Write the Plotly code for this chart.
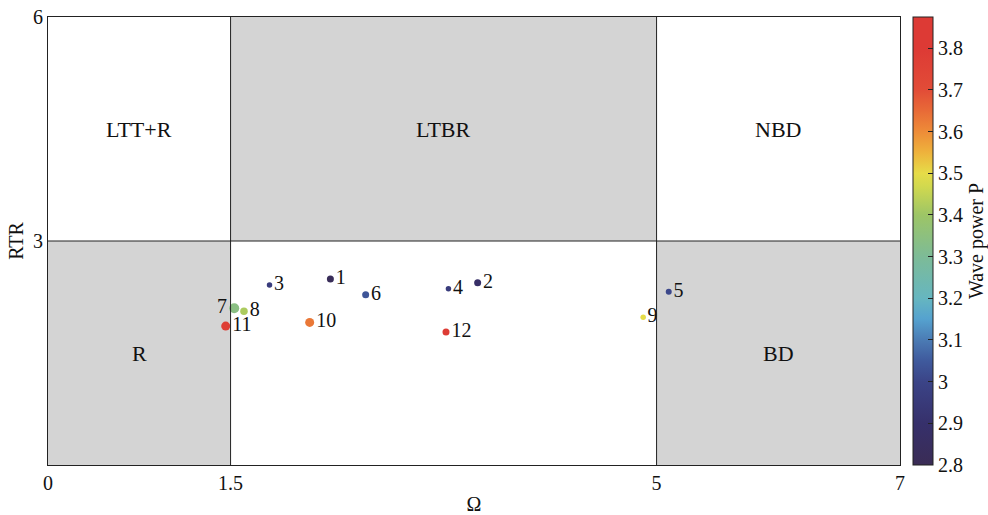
import plotly.graph_objects as go

# Data
labels = ["1", "2", "3", "4", "5", "6", "7", "8", "9", "10", "11", "12"]
omega = [2.32, 3.53, 1.82, 3.29, 5.10, 2.61, 1.53, 1.61, 4.89, 2.15, 1.46, 3.27]
rtr = [2.49, 2.44, 2.41, 2.36, 2.32, 2.28, 2.10, 2.06, 1.98, 1.91, 1.86, 1.78]
power = [2.82, 2.88, 2.96, 2.96, 3.01, 3.04, 3.34, 3.42, 3.50, 3.63, 3.78, 3.79]
sizes = [7, 7, 5.5, 5.5, 6, 7, 10, 7.5, 5.5, 9, 9, 7]
text_pos = ["middle right"] * 6 + ["middle left"] + ["middle right"] * 5

x_ticks = [0, 1.5, 5, 7]
y_ticks = [3, 6]
cbar_ticks = [2.8, 2.9, 3.0, 3.1, 3.2, 3.3, 3.4, 3.5, 3.6, 3.7, 3.8]
cbar_text = ["2.8", "2.9", "3", "3.1", "3.2", "3.3", "3.4", "3.5", "3.6", "3.7", "3.8"]

regions = [  # x0, x1, y0, y1, shaded, label
    (0, 1.5, 3, 6, False, "LTT+R"),
    (1.5, 5, 3, 6, True, "LTBR"),
    (5, 7, 3, 6, False, "NBD"),
    (0, 1.5, 0, 3, True, "R"),
    (1.5, 5, 0, 3, False, ""),
    (5, 7, 0, 3, True, "BD"),
]

cmin, cmax = 2.8, 3.875
colorscale = [
    [0.0, "#3a2c55"],
    [0.093, "#36306b"],
    [0.186, "#3b4487"],
    [0.233, "#3f5a9d"],
    [0.279, "#4b7bb4"],
    [0.326, "#55a2cf"],
    [0.372, "#66b6c0"],
    [0.465, "#7dbb97"],
    [0.558, "#9dc566"],
    [0.623, "#d2d94e"],
    [0.651, "#e6dc48"],
    [0.698, "#eeb23c"],
    [0.744, "#ee8c38"],
    [0.791, "#e86a37"],
    [0.837, "#e24c37"],
    [0.93, "#dd3a35"],
    [1.0, "#dd3a35"],
]

FONT = "Liberation Serif"
TXT = "#111"

fig = go.Figure()

shapes = []
annotations = []
for x0, x1, y0, y1, shaded, lab in regions:
    if shaded:
        shapes.append(dict(type="rect", xref="x", yref="y", x0=x0, x1=x1, y0=y0, y1=y1,
                           fillcolor="#d4d4d4", line=dict(width=0), layer="below"))
    if lab:
        annotations.append(dict(x=(x0 + x1) / 2, y=(y0 + y1) / 2, xref="x", yref="y",
                                text=lab, showarrow=False,
                                font=dict(family=FONT, size=22, color=TXT)))

for xv in [1.5, 5]:
    shapes.append(dict(type="line", xref="x", yref="y", x0=xv, x1=xv, y0=0, y1=6,
                       line=dict(color="#222", width=1)))
shapes.append(dict(type="line", xref="x", yref="y", x0=0, x1=7, y0=3, y1=3,
                   line=dict(color="#222", width=1)))

fig.add_trace(go.Scatter(
    x=omega, y=rtr, mode="markers+text", text=labels, textposition=text_pos,
    textfont=dict(family=FONT, size=20, color=TXT),
    marker=dict(size=sizes, color=power, colorscale=colorscale, cmin=cmin, cmax=cmax,
                opacity=1, line=dict(width=0), showscale=True,
                colorbar=dict(
                    x=1.0153, xanchor="left", xref="paper", xpad=0, ypad=0,
                    y=0.5, yanchor="middle", len=448, lenmode="pixels",
                    thickness=20, thicknessmode="pixels",
                    outlinecolor="#222", outlinewidth=1,
                    tickvals=cbar_ticks, ticktext=cbar_text,
                    ticks="inside", ticklen=5, tickcolor="#222",
                    tickfont=dict(family=FONT, size=20, color=TXT),
                    title=dict(text="Wave power P", side="right",
                               font=dict(family=FONT, size=20, color=TXT)),
                )),
    showlegend=False, hoverinfo="x+y",
))

fig.update_layout(
    width=988, height=515,
    margin=dict(l=48, r=88, t=17, b=50, autoexpand=False),
    paper_bgcolor="white", plot_bgcolor="white",
    shapes=shapes, annotations=annotations,
    font=dict(family=FONT, size=20, color=TXT),
    xaxis=dict(range=[0, 7], tickvals=x_ticks, ticktext=["0", "1.5", "5", "7"],
               showgrid=False, zeroline=False, showline=True, mirror=True,
               linecolor="#222", linewidth=1, ticks="", ticklen=0,
               tickfont=dict(family=FONT, size=20, color=TXT),
               title=dict(text="Ω", standoff=4, font=dict(family=FONT, size=20, color=TXT))),
    yaxis=dict(range=[0, 6], tickvals=y_ticks, ticktext=["3", "6"],
               showgrid=False, zeroline=False, showline=True, mirror=True,
               linecolor="#222", linewidth=1, ticks="",
               tickfont=dict(family=FONT, size=20, color=TXT),
               title=dict(text="RTR", standoff=4, font=dict(family=FONT, size=20, color=TXT))),
)

fig.write_html("out.html", config={"displayModeBar": False},
               post_script="document.body.style.margin='0';")
